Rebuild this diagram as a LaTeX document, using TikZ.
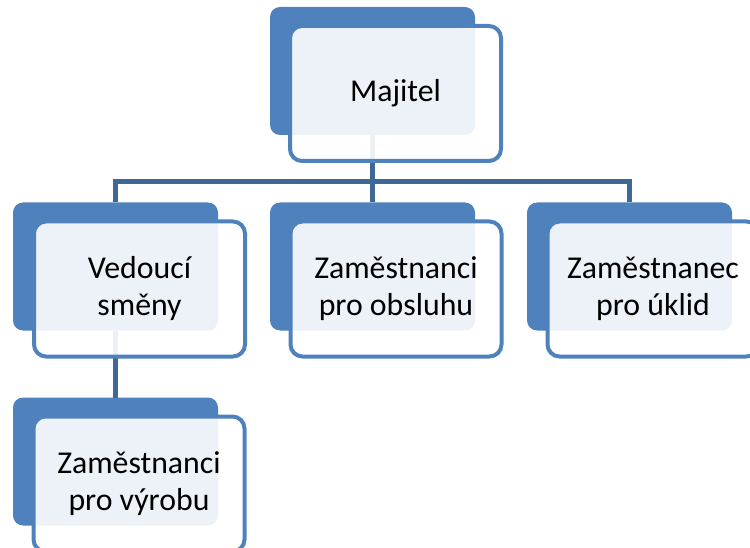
\documentclass[tikz,border=0pt]{standalone}
\usepackage{fontspec}
\setmainfont{Carlito}
\definecolor{boxblue}{HTML}{4F81BD}
\definecolor{linkblue}{HTML}{3F6795}
\begin{document}
\begin{tikzpicture}[x=1pt,y=-1pt,
  backbox/.style={rectangle, rounded corners=10pt, fill=boxblue, draw=none,
    minimum width=205pt, minimum height=128pt, inner sep=0pt, outer sep=0pt},
  frontbox/.style={rectangle, rounded corners=12pt, fill=white, fill opacity=0.9, text opacity=1,
    draw=boxblue, draw opacity=1, line width=4pt,
    minimum width=211pt, minimum height=135pt, inner sep=0pt, outer sep=0pt,
    align=center, font=\fontsize{31.8}{37}\selectfont, text=black},
  link/.style={draw=linkblue, line width=5pt}]
\useasboundingbox (0,0) rectangle (750,548);
\begin{scope}
\clip (0,0) rectangle (750,548);
% back boxes
\node[backbox] (b0) at (372.5,71) {};
\node[backbox] (b1) at (115.5,266.5) {};
\node[backbox] (b2) at (372.5,266.5) {};
\node[backbox] (b3) at (629.5,266.5) {};
\node[backbox] (b4) at (115.5,461.5) {};
% connectors
\coordinate (busL) at (115.5,182);
\coordinate (busM) at (372.5,182);
\coordinate (busR) at (629.5,182);
\draw[link] (b0.south) -- (busM);
\draw[link, line join=miter] (b1.north) -- (busL) -- (busR) -- (b3.north);
\draw[link] (busM) -- (b2.north);
\draw[link] (b1.south) -- (b4.north);
% front boxes
\node[frontbox] (f0) at (395.5,93.5) {Majitel};
\node[frontbox] (f1) at (139.5,289) {Vedoucí\\směny};
\node[frontbox] (f2) at (396,289) {Zaměstnanci\\pro obsluhu};
\node[frontbox] (f3) at (653,289) {Zaměstnanec\\pro úklid};
\node[frontbox] (f4) at (139,484) {Zaměstnanci\\pro výrobu};
\end{scope}
\end{tikzpicture}
\end{document}
